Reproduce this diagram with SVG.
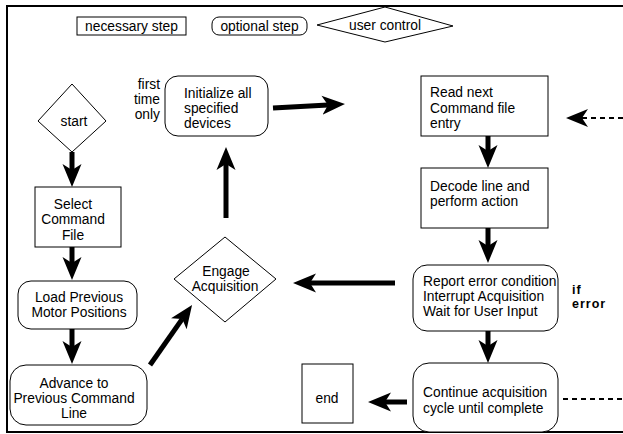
<svg xmlns="http://www.w3.org/2000/svg" width="623" height="434" viewBox="0 0 623 434">
<defs>
<style>
text{font-family:"Liberation Sans",Arial,sans-serif;font-size:13.8px;fill:#000}
.c{text-anchor:middle}
.r{text-anchor:end}
.box{fill:#fff;stroke:#000;stroke-width:1}
.frame{fill:none;stroke:#000;stroke-width:2}
.arr{stroke:#000;stroke-width:5;fill:none;marker-end:url(#head)}
.dash{stroke:#000;stroke-width:2;fill:none;stroke-dasharray:5 4}
.bold{font-weight:bold;font-size:12.5px;letter-spacing:1px}
</style>
<marker id="head" markerUnits="userSpaceOnUse" markerWidth="26" markerHeight="22" viewBox="0 -11 26 22" refX="6" refY="0" orient="auto">
<path d="M0,-9.5 L23,0 L0,9.5 L6,0 Z" fill="#000"/>
</marker>
</defs>
<rect width="623" height="434" fill="#fff"/>
<path class="frame" d="M623,6 H7 V432 H623"/>

<g id="legend">
<rect class="box" x="77" y="17" width="109" height="18"/>
<text class="c" x="131.5" y="31">necessary step</text>
<rect class="box" x="212" y="17" width="95" height="18" rx="7"/>
<text class="c" x="259.5" y="31">optional step</text>
<polygon class="box" points="317,25 385,7 453,26 385,42"/>
<text class="c" x="385" y="30">user control</text>
</g>

<g id="start">
<polygon class="box" points="38,121 72,84 106,121 72,152"/>
<text class="c" x="74" y="126">start</text>
</g>

<g id="select">
<rect class="box" x="35" y="187" width="86" height="60"/>
<text class="c" x="73" y="209">Select</text>
<text class="c" x="73" y="224">Command</text>
<text class="c" x="73" y="240">File</text>
</g>

<g id="load">
<rect class="box" x="18" y="281" width="119" height="48" rx="13"/>
<text class="c" x="79" y="302">Load Previous</text>
<text class="c" x="79" y="317">Motor Positions</text>
</g>

<g id="advance">
<rect class="box" x="10" y="365" width="137" height="60" rx="16"/>
<text class="c" x="74" y="388">Advance to</text>
<text class="c" x="74" y="403">Previous Command</text>
<text class="c" x="74" y="418">Line</text>
</g>

<g id="engage">
<polygon class="box" points="174,279 225,237 276,279 225,322"/>
<text class="c" x="226" y="276">Engage</text>
<text class="c" x="225" y="291">Acquisition</text>
</g>

<g id="initialize">
<rect class="box" x="165" y="76" width="103" height="60" rx="13"/>
<text x="184" y="98">Initialize all</text>
<text x="184" y="113">specified</text>
<text x="184" y="128">devices</text>
<text class="r" x="160" y="89">first</text>
<text class="r" x="160" y="104">time</text>
<text class="r" x="160" y="119">only</text>
</g>

<g id="read">
<rect class="box" x="421" y="76" width="127" height="60"/>
<text x="430" y="97">Read next</text>
<text x="430" y="113">Command file</text>
<text x="430" y="128">entry</text>
</g>

<g id="decode">
<rect class="box" x="421" y="168" width="127" height="60"/>
<text x="430" y="191">Decode line and</text>
<text x="430" y="206">perform action</text>
</g>

<g id="report">
<rect class="box" x="413" y="265" width="145" height="66" rx="14"/>
<text x="423" y="286">Report error condition</text>
<text x="423" y="301">Interrupt Acquisition</text>
<text x="423" y="316">Wait for User Input</text>
<text class="bold" x="572" y="294">if</text>
<text class="bold" x="572" y="308">error</text>
</g>

<g id="continue">
<rect class="box" x="413" y="363" width="145" height="69" rx="16"/>
<text x="423" y="397">Continue acquisition</text>
<text x="423" y="413">cycle until complete</text>
</g>

<g id="end">
<rect class="box" x="302" y="364" width="51" height="59"/>
<text class="c" x="327" y="403">end</text>
</g>

<g id="connectors">
<line class="arr" x1="72" y1="152" x2="72" y2="170"/>
<line class="arr" x1="72" y1="247" x2="72" y2="263"/>
<line class="arr" x1="72" y1="329" x2="72" y2="347"/>
<line class="arr" x1="150" y1="365" x2="182.3" y2="318.9"/>
<line class="arr" x1="226" y1="218" x2="226" y2="164"/>
<line class="arr" x1="273" y1="108" x2="328" y2="104.9"/>
<line class="arr" x1="488" y1="136" x2="488" y2="151"/>
<line class="arr" x1="488" y1="228" x2="488" y2="246"/>
<line class="arr" x1="395" y1="283" x2="310" y2="283"/>
<line class="arr" x1="488" y1="331" x2="488" y2="346"/>
<line class="arr" x1="407" y1="402" x2="385" y2="402"/>
<line class="dash" x1="623" y1="118" x2="580" y2="118"/>
<path d="M566,118 L588,109 L582,118 L588,127 Z" fill="#000"/>
<line class="dash" x1="563" y1="399" x2="623" y2="399"/>
</g>
</svg>
